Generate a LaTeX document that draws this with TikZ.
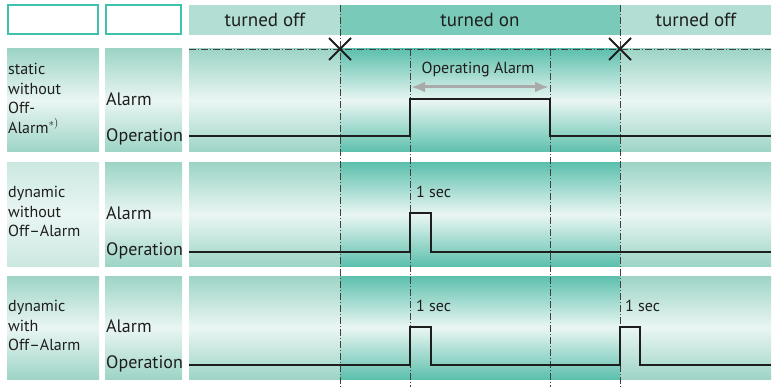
\documentclass[tikz,border=0pt]{standalone}
\usepackage{fontspec}
\setmainfont{PT Sans}
\usetikzlibrary{arrows.meta}
\definecolor{offteal}{HTML}{9DD4C6}
\definecolor{onteal}{HTML}{5DC0AD}
\definecolor{glow}{HTML}{EAF6F3}
\definecolor{paleteal}{HTML}{CBE8E1}
\definecolor{hdroff}{HTML}{B3DED4}
\definecolor{hdron}{HTML}{7ACAB9}
\definecolor{rim}{HTML}{3EC2AE}
\definecolor{trace}{HTML}{1E1E1E}
\definecolor{span}{HTML}{AAAAAA}
\tikzset{
  offpanel/.style={top color=offteal, bottom color=offteal, middle color=glow},
  onpanel/.style={top color=onteal, bottom color=onteal, middle color=glow},
  palepanel/.style={top color=paleteal, bottom color=paleteal, middle color=glow},
  markline/.style={draw=trace!85, line width=0.8pt, dash pattern=on 7pt off 2pt on 1pt off 2pt},
  signal/.style={draw=trace, line width=2.5pt},
  hdrtext/.style={font=\fontsize{19}{21}\selectfont, text=trace, inner sep=0pt},
  modetext/.style={font=\fontsize{16}{19.5}\selectfont, text=trace, align=left, anchor=north west, inner sep=0pt},
  leveltext/.style={font=\fontsize{18}{20}\selectfont, text=trace, anchor=west, inner sep=0pt},
  smalltext/.style={font=\fontsize{16}{18}\selectfont, text=trace, inner sep=0pt},
}
\begin{document}
\begin{tikzpicture}[x=1pt, y=-1pt]
\useasboundingbox (0,0) rectangle (773,387);
% header row
\draw[rim, line width=1.5pt, fill=white] (8,5) rectangle (98,34);
\draw[rim, line width=1.5pt, fill=white] (106,5) rectangle (181,34);
\fill[hdroff] (189,5) rectangle (340,35);
\fill[hdron] (340,5) rectangle (620,35);
\fill[hdroff] (620,5) rectangle (771,35);
\node[hdrtext] (hoff1) at (265,20) {turned off};
\node[hdrtext] (hon) at (480,20) {turned on};
\node[hdrtext] (hoff2) at (696,20) {turned off};
% panels
\foreach \top/\bot/\look in {49/152/offpanel, 163/266/palepanel, 276/379/offpanel} {
  \shade[\look] (7,\top) rectangle (99,\bot);
  \shade[offpanel] (105,\top) rectangle (182,\bot);
  \shade[offpanel] (189,\top) rectangle (340,\bot);
  \shade[onpanel] (340,\top) rectangle (620,\bot);
  \shade[offpanel] (620,\top) rectangle (771,\bot);
  \node[leveltext] at (106,\top+50) {Alarm};
  \node[leveltext] at (106,\top+88) {Operation};
}
% mode labels
\node[modetext] (static) at (8,63) {static\\without\\Off-\\Alarm$^{*)}$};
\node[modetext] (dynnone) at (8,186) {dynamic\\without\\Off--Alarm};
\node[modetext] (dynwith) at (8,300) {dynamic\\with\\Off--Alarm};
% time marks
\draw[markline] (189,49) -- (771,49);
\draw[markline] (340,5) -- (340,387);
\draw[markline] (410,49) -- (410,387);
\draw[markline] (550,49) -- (550,387);
\draw[markline] (620,5) -- (620,387);
\foreach \xm in {340,620}
  \draw[trace, line width=2pt] (\xm-11,38) -- (\xm+11,60) (\xm-11,60) -- (\xm+11,38);
% signals
\draw[signal] (189,136) -- (410,136) -- (410,99) -- (550,99) -- (550,136) -- (771,136);
\draw[signal] (189,252) -- (410,252) -- (410,213) -- (431,213) -- (431,252) -- (771,252);
\draw[signal] (189,365) -- (410,365) -- (410,327) -- (431,327) -- (431,365)
  -- (620,365) -- (620,327) -- (640,327) -- (640,365) -- (771,365);
% durations
\node[smalltext] (oplabel) at (478,70) {Operating Alarm};
\draw[span, line width=3pt, {Latex[length=14pt,width=11pt]}-{Latex[length=14pt,width=11pt]}] (411,87) -- (549,87);
\node[smalltext, anchor=west] (sec1) at (416,192) {1 sec};
\node[smalltext, anchor=west] (sec2) at (416,306) {1 sec};
\node[smalltext, anchor=west] (sec3) at (625,306) {1 sec};
\end{tikzpicture}
\end{document}
